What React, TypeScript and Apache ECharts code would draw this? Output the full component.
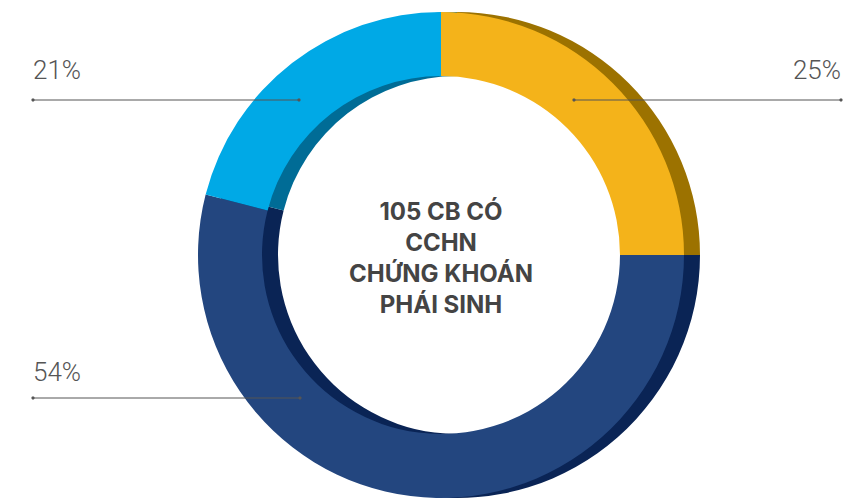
import React, { useEffect, useRef } from "react";
import * as echarts from "echarts";

const categories = ["Nhóm A", "Nhóm B", "Nhóm C"];
const values = [25, 54, 21];
const frontColors = ["#F4B31A", "#23467F", "#00A9E6"];
const backColors = ["#9C7200", "#0A2455", "#006C96"];
const centerLines = ["105 CB CÓ", "CCHN", "CHỨNG KHOÁN", "PHÁI SINH"];

// label layout (annotation positions)
const labelSpots = [
  { tx: 841, ty: 70, align: "right", line: [[574, 100], [841, 100]] },
  { tx: 33, ty: 372, align: "left", line: [[300, 398], [33, 398]] },
  { tx: 33, ty: 70, align: "left", line: [[299, 100], [33, 100]] },
];

export default function App() {
  const ref = useRef<HTMLDivElement>(null);
  useEffect(() => {
    document.body.style.margin = "0";
    if (!ref.current) return;
    const chart = echarts.init(ref.current, undefined, { renderer: "svg" });
    const data = categories.map((c, i) => ({ name: c, value: values[i] }));
    const guides: any[] = [];
    labelSpots.forEach((s) => {
      guides.push({
        type: "polyline",
        shape: { points: s.line },
        style: { stroke: "#555", lineWidth: 1, fill: null },
        z: 100,
        silent: true,
      });
      [s.line[0], s.line[s.line.length - 1]].forEach((p) => {
        guides.push({
          type: "circle",
          shape: { cx: p[0], cy: p[1], r: 1.6 },
          style: { fill: "#555" },
          z: 100,
          silent: true,
        });
      });
    });
    chart.setOption({
      animation: false,
      backgroundColor: "#ffffff",
      graphic: [
        {
          type: "text",
          x: 441,
          y: 258,
          z: 100,
          style: {
            text: centerLines.join("\n"),
            fill: "#444444",
            fontFamily: "Inter",
            fontWeight: 700,
            fontSize: 24,
            lineHeight: 31,
            align: "center",
            verticalAlign: "middle",
          },
        },
        ...guides,
      ],
      series: [
        {
          type: "pie",
          silent: true,
          z: 1,
          center: [457, 255],
          radius: [179, 243],
          startAngle: 90,
          clockwise: true,
          label: { show: false },
          labelLine: { show: false },
          emphasis: { disabled: true },
          data: data.map((d, i) => ({ ...d, itemStyle: { color: backColors[i] } })),
        },
        {
          type: "pie",
          silent: true,
          z: 2,
          center: [441, 255],
          radius: [179, 243],
          startAngle: 90,
          clockwise: true,
          emphasis: { disabled: true },
          label: {
            show: true,
            position: "outside",
            formatter: "{d}%",
            fontFamily: "Roboto",
            fontWeight: 300,
            fontSize: 26,
            color: "#555555",
          },
          labelLine: { show: false },
          labelLayout: (params: any) => {
            const s = labelSpots[params.dataIndex];
            return {
              x: s.tx,
              y: s.ty,
              align: s.align,
              verticalAlign: "middle",
            };
          },
          data: data.map((d, i) => ({ ...d, itemStyle: { color: frontColors[i] } })),
        },
      ],
    });
    return () => chart.dispose();
  }, []);
  return <div ref={ref} style={{ width: 849, height: 500 }} />;
}
